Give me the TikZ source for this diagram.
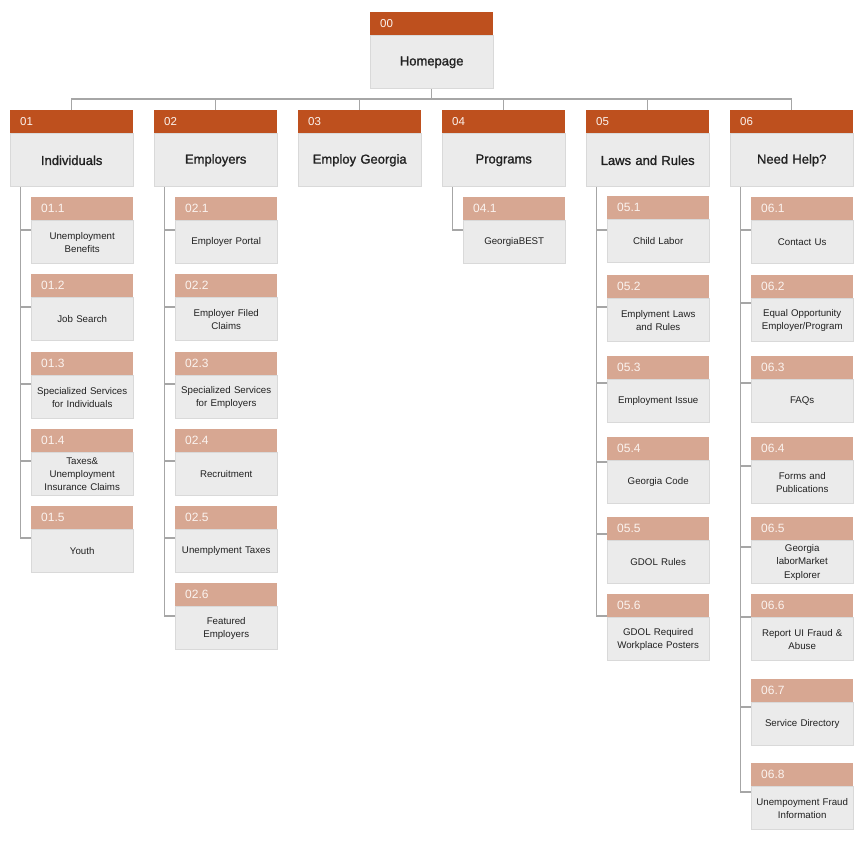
\documentclass[tikz,border=0pt]{standalone}
\usepackage{fontspec}
\setmainfont{Liberation Sans}
\newfontfamily\titlefont[FakeBold=1.2]{Liberation Sans}
\definecolor{headdark}{HTML}{BE501E}
\definecolor{headlight}{HTML}{D7A792}
\definecolor{bodyfill}{HTML}{EBEBEB}
\definecolor{bodyline}{HTML}{D9D9D9}
\definecolor{linkgray}{HTML}{A6A6A6}
\definecolor{textdark}{HTML}{212121}
\definecolor{numtext}{HTML}{FBF3EF}
\begin{document}
\begin{tikzpicture}[x=1pt, y=-1pt,
	tophead/.style={fill=headdark, text=numtext, anchor=north west, inner xsep=10pt, inner ysep=0pt,
		text width=103pt, minimum height=23pt, align=left, font=\fontsize{11.5}{12}\selectfont},
	topbody/.style={fill=bodyfill, draw=bodyline, line width=0.8pt, anchor=north, inner xsep=4pt, inner ysep=0pt,
		text width=115pt, minimum height=53pt, align=center, text=textdark, font=\titlefont\fontsize{13}{15}\selectfont},
	subhead/.style={tophead, fill=headlight, text width=82pt, font=\fontsize{12}{12}\selectfont},
	subbody/.style={topbody, text width=94pt, minimum height=43pt, font=\fontsize{9.7}{13.3}\selectfont},
	link/.style={draw=linkgray, line width=1.2pt}]
	\useasboundingbox (0,0) rectangle (864,847);
	% section titles
	\def\titles {Individuals, Employers, Employ Georgia, Programs, Laws and Rules, Need Help?};
	% sub pages: box top / connector y / text
	\def\subsA {197/230/{Unemployment\\Benefits}, 274/307/{Job Search}, 352/384/{Specialized Services\\for Individuals},
		429/461/{Taxes\&\\Unemployment\\Insurance Claims}, 506/538/{Youth}}
	\def\subsB {197/230/{Employer Portal}, 274/307/{Employer Filed\\Claims}, 352/384/{Specialized Services\\for Employers},
		429/461/{Recruitment}, 506/538/{Unemplyment Taxes}, 583/616/{Featured\\Employers}}
	\def\subsD {197/230/{GeorgiaBEST}}
	\def\subsE {196/230/{Child Labor}, 275/307/{Emplyment Laws\\and Rules}, 356/383/{Employment Issue},
		437/462/{Georgia Code}, 517/534/{GDOL Rules}, 594/616/{GDOL Required\\Workplace Posters}}
	\def\subsF {197/230/{Contact Us}, 275/303/{Equal Opportunity\\Employer/Program}, 356/383/{FAQs},
		437/466/{Forms and\\Publications}, 517/547/{Georgia\\laborMarket\\Explorer}, 594/617/{Report UI Fraud \&\\Abuse},
		679/707/{Service Directory}, 763/792/{Unempoyment Fraud\\Information}}
	% homepage
	\node[tophead] (h_0) at (370,12) {00};
	\node[topbody] (b_0) at (h_0.south) {Homepage};
	\coordinate (bus) at (b_0.south |- 0,99);
	\draw[link] (b_0.south) -- (bus);
	% sections
	\foreach \name [count=\i] in \titles
	{
		\pgfmathsetmacro\xl{10+144*(\i-1)}
		\node[tophead] (h_\i) at (\xl,110) {0\i};
		\node[topbody] (b_\i) at (h_\i.south) {\name};
		\draw[link] (h_\i.north) |- (bus);
	}
	% sub pages and connectors
	\foreach \col/\letter in {1/A, 2/B, 4/D, 5/E, 6/F}
	{
		\expandafter\let\expandafter\subs\csname subs\letter\endcsname
		\pgfmathsetmacro\xl{31+144*(\col-1)}
		\foreach \top/\cy/\txt [count=\j] in \subs
		{
			\node[subhead] (s_\col_\j) at (\xl,\top) {0\col.\j};
			\node[subbody] (d_\col_\j) at (s_\col_\j.south) {\txt};
			\draw[link] ([xshift=11pt]b_\col.south west) |- (d_\col_\j.west |- 0,\cy);
		}
	}
\end{tikzpicture}
\end{document}
